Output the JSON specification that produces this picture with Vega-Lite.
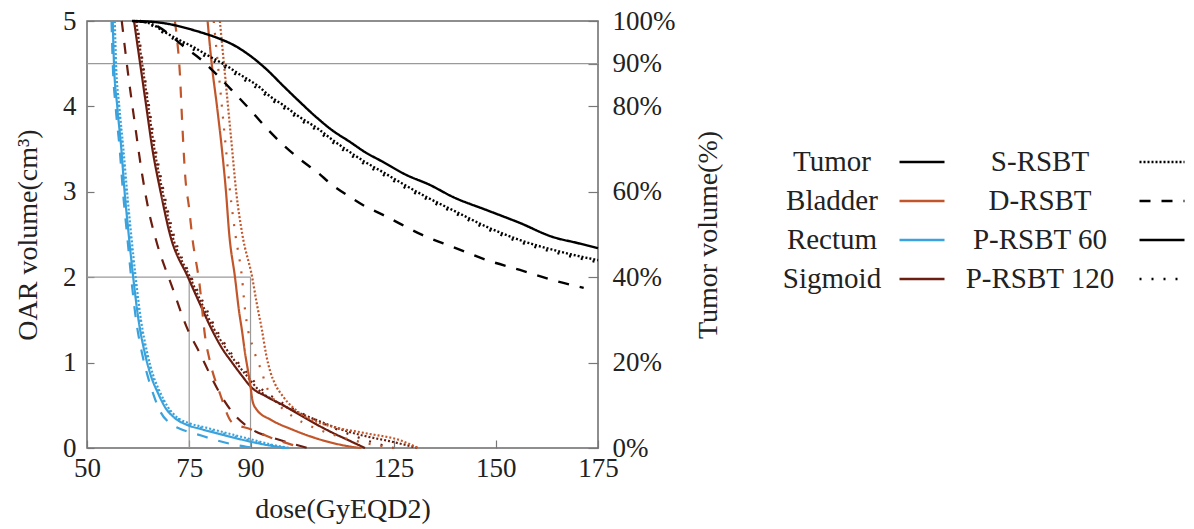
{
"$schema": "https://vega.github.io/schema/vega-lite/v6.json",
"width": 511, "height": 427,
"autosize": {"type": "none"},
"padding": {"left": 87, "top": 21, "right": 596, "bottom": 81},
"background": "white",
"config": {
  "font": "Liberation Serif",
  "view": {"stroke": "#6a6a6a", "strokeWidth": 1.5},
  "axis": {"labelFont": "Liberation Serif", "titleFont": "Liberation Serif", "labelFontSize": 27, "titleFontSize": 28, "titleFontWeight": "normal", "labelColor": "#222", "titleColor": "#222", "domain": false, "grid": false, "tickColor": "#777", "tickWidth": 1.2, "labelFlush": false, "labelOverlap": false},
  "legend": {"labelFont": "Liberation Serif", "labelFontSize": 29, "labelColor": "#222", "labelLimit": 400, "padding": 0}
},
"datasets": {
  "refs": [
    {"dose": 50, "dose_end": 175, "volume": 4.5, "volume_end": 4.5},
    {"dose": 50, "dose_end": 90, "volume": 2, "volume_end": 2},
    {"dose": 75, "dose_end": 75, "volume": 0, "volume_end": 2},
    {"dose": 90, "dose_end": 90, "volume": 0, "volume_end": 2}
  ],
  "oar": [
    {"organ":"Rectum","technique":"P-RSBT 60","dose":56.3,"volume":5},{"organ":"Rectum","technique":"P-RSBT 60","dose":56.6,"volume":4.5},{"organ":"Rectum","technique":"P-RSBT 60","dose":57.4,"volume":4},{"organ":"Rectum","technique":"P-RSBT 60","dose":58.4,"volume":3.5},{"organ":"Rectum","technique":"P-RSBT 60","dose":59.2,"volume":3},{"organ":"Rectum","technique":"P-RSBT 60","dose":60.2,"volume":2.5},{"organ":"Rectum","technique":"P-RSBT 60","dose":61.3,"volume":2},{"organ":"Rectum","technique":"P-RSBT 60","dose":62.6,"volume":1.5},{"organ":"Rectum","technique":"P-RSBT 60","dose":64.2,"volume":1.1},{"organ":"Rectum","technique":"P-RSBT 60","dose":65.6,"volume":0.85},{"organ":"Rectum","technique":"P-RSBT 60","dose":67.3,"volume":0.65},{"organ":"Rectum","technique":"P-RSBT 60","dose":69.2,"volume":0.47},{"organ":"Rectum","technique":"P-RSBT 60","dose":71.5,"volume":0.35},{"organ":"Rectum","technique":"P-RSBT 60","dose":74.5,"volume":0.27},{"organ":"Rectum","technique":"P-RSBT 60","dose":78,"volume":0.22},{"organ":"Rectum","technique":"P-RSBT 60","dose":82,"volume":0.17},{"organ":"Rectum","technique":"P-RSBT 60","dose":86,"volume":0.12},{"organ":"Rectum","technique":"P-RSBT 60","dose":90.4,"volume":0.07},{"organ":"Rectum","technique":"P-RSBT 60","dose":94,"volume":0.035},{"organ":"Rectum","technique":"P-RSBT 60","dose":99,"volume":0},
    {"organ":"Rectum","technique":"S-RSBT","dose":56.8,"volume":5},{"organ":"Rectum","technique":"S-RSBT","dose":57.1,"volume":4.5},{"organ":"Rectum","technique":"S-RSBT","dose":57.9,"volume":4},{"organ":"Rectum","technique":"S-RSBT","dose":58.9,"volume":3.5},{"organ":"Rectum","technique":"S-RSBT","dose":59.8,"volume":3},{"organ":"Rectum","technique":"S-RSBT","dose":60.8,"volume":2.5},{"organ":"Rectum","technique":"S-RSBT","dose":61.9,"volume":2},{"organ":"Rectum","technique":"S-RSBT","dose":63.2,"volume":1.5},{"organ":"Rectum","technique":"S-RSBT","dose":64.8,"volume":1.1},{"organ":"Rectum","technique":"S-RSBT","dose":66.2,"volume":0.85},{"organ":"Rectum","technique":"S-RSBT","dose":67.9,"volume":0.65},{"organ":"Rectum","technique":"S-RSBT","dose":69.8,"volume":0.48},{"organ":"Rectum","technique":"S-RSBT","dose":72,"volume":0.36},{"organ":"Rectum","technique":"S-RSBT","dose":75,"volume":0.29},{"organ":"Rectum","technique":"S-RSBT","dose":79,"volume":0.24},{"organ":"Rectum","technique":"S-RSBT","dose":83,"volume":0.19},{"organ":"Rectum","technique":"S-RSBT","dose":87,"volume":0.14},{"organ":"Rectum","technique":"S-RSBT","dose":91,"volume":0.09},{"organ":"Rectum","technique":"S-RSBT","dose":95,"volume":0.04},{"organ":"Rectum","technique":"S-RSBT","dose":99.5,"volume":0},
    {"organ":"Rectum","technique":"D-RSBT","dose":56,"volume":5},{"organ":"Rectum","technique":"D-RSBT","dose":56.3,"volume":4.5},{"organ":"Rectum","technique":"D-RSBT","dose":57,"volume":4},{"organ":"Rectum","technique":"D-RSBT","dose":58,"volume":3.5},{"organ":"Rectum","technique":"D-RSBT","dose":58.8,"volume":3},{"organ":"Rectum","technique":"D-RSBT","dose":59.8,"volume":2.5},{"organ":"Rectum","technique":"D-RSBT","dose":60.8,"volume":2},{"organ":"Rectum","technique":"D-RSBT","dose":62,"volume":1.5},{"organ":"Rectum","technique":"D-RSBT","dose":63.5,"volume":1.1},{"organ":"Rectum","technique":"D-RSBT","dose":64.8,"volume":0.85},{"organ":"Rectum","technique":"D-RSBT","dose":66.3,"volume":0.62},{"organ":"Rectum","technique":"D-RSBT","dose":68,"volume":0.42},{"organ":"Rectum","technique":"D-RSBT","dose":70,"volume":0.3},{"organ":"Rectum","technique":"D-RSBT","dose":73,"volume":0.22},{"organ":"Rectum","technique":"D-RSBT","dose":77,"volume":0.16},{"organ":"Rectum","technique":"D-RSBT","dose":81,"volume":0.1},{"organ":"Rectum","technique":"D-RSBT","dose":85,"volume":0.05},{"organ":"Rectum","technique":"D-RSBT","dose":89,"volume":0.015},{"organ":"Rectum","technique":"D-RSBT","dose":92,"volume":0},
    {"organ":"Rectum","technique":"P-RSBT 120","dose":56.5,"volume":5},{"organ":"Rectum","technique":"P-RSBT 120","dose":56.9,"volume":4.5},{"organ":"Rectum","technique":"P-RSBT 120","dose":57.7,"volume":4},{"organ":"Rectum","technique":"P-RSBT 120","dose":58.7,"volume":3.5},{"organ":"Rectum","technique":"P-RSBT 120","dose":59.5,"volume":3},{"organ":"Rectum","technique":"P-RSBT 120","dose":60.5,"volume":2.5},{"organ":"Rectum","technique":"P-RSBT 120","dose":61.6,"volume":2},{"organ":"Rectum","technique":"P-RSBT 120","dose":62.9,"volume":1.5},{"organ":"Rectum","technique":"P-RSBT 120","dose":64.5,"volume":1.1},{"organ":"Rectum","technique":"P-RSBT 120","dose":65.9,"volume":0.85},{"organ":"Rectum","technique":"P-RSBT 120","dose":67.6,"volume":0.65},{"organ":"Rectum","technique":"P-RSBT 120","dose":69.5,"volume":0.48},{"organ":"Rectum","technique":"P-RSBT 120","dose":71.8,"volume":0.36},{"organ":"Rectum","technique":"P-RSBT 120","dose":74.8,"volume":0.28},{"organ":"Rectum","technique":"P-RSBT 120","dose":78.5,"volume":0.23},{"organ":"Rectum","technique":"P-RSBT 120","dose":82.5,"volume":0.18},{"organ":"Rectum","technique":"P-RSBT 120","dose":86.5,"volume":0.13},{"organ":"Rectum","technique":"P-RSBT 120","dose":90.5,"volume":0.08},{"organ":"Rectum","technique":"P-RSBT 120","dose":94.5,"volume":0.04},{"organ":"Rectum","technique":"P-RSBT 120","dose":98,"volume":0},
    {"organ":"Sigmoid","technique":"P-RSBT 60","dose":61.5,"volume":5},{"organ":"Sigmoid","technique":"P-RSBT 60","dose":63,"volume":4.5},{"organ":"Sigmoid","technique":"P-RSBT 60","dose":64.5,"volume":4},{"organ":"Sigmoid","technique":"P-RSBT 60","dose":66,"volume":3.5},{"organ":"Sigmoid","technique":"P-RSBT 60","dose":68,"volume":3},{"organ":"Sigmoid","technique":"P-RSBT 60","dose":70.3,"volume":2.5},{"organ":"Sigmoid","technique":"P-RSBT 60","dose":74.7,"volume":2},{"organ":"Sigmoid","technique":"P-RSBT 60","dose":77.5,"volume":1.7},{"organ":"Sigmoid","technique":"P-RSBT 60","dose":80.6,"volume":1.38},{"organ":"Sigmoid","technique":"P-RSBT 60","dose":83,"volume":1.17},{"organ":"Sigmoid","technique":"P-RSBT 60","dose":85.5,"volume":1},{"organ":"Sigmoid","technique":"P-RSBT 60","dose":88,"volume":0.84},{"organ":"Sigmoid","technique":"P-RSBT 60","dose":90,"volume":0.72},{"organ":"Sigmoid","technique":"P-RSBT 60","dose":94,"volume":0.6},{"organ":"Sigmoid","technique":"P-RSBT 60","dose":98,"volume":0.5},{"organ":"Sigmoid","technique":"P-RSBT 60","dose":102,"volume":0.39},{"organ":"Sigmoid","technique":"P-RSBT 60","dose":106,"volume":0.28},{"organ":"Sigmoid","technique":"P-RSBT 60","dose":110,"volume":0.18},{"organ":"Sigmoid","technique":"P-RSBT 60","dose":114,"volume":0.09},{"organ":"Sigmoid","technique":"P-RSBT 60","dose":118,"volume":0},
    {"organ":"Sigmoid","technique":"S-RSBT","dose":62,"volume":5},{"organ":"Sigmoid","technique":"S-RSBT","dose":63.5,"volume":4.5},{"organ":"Sigmoid","technique":"S-RSBT","dose":65,"volume":4},{"organ":"Sigmoid","technique":"S-RSBT","dose":66.5,"volume":3.5},{"organ":"Sigmoid","technique":"S-RSBT","dose":68.5,"volume":3},{"organ":"Sigmoid","technique":"S-RSBT","dose":70.8,"volume":2.5},{"organ":"Sigmoid","technique":"S-RSBT","dose":75.2,"volume":2},{"organ":"Sigmoid","technique":"S-RSBT","dose":78,"volume":1.7},{"organ":"Sigmoid","technique":"S-RSBT","dose":81,"volume":1.4},{"organ":"Sigmoid","technique":"S-RSBT","dose":83.5,"volume":1.2},{"organ":"Sigmoid","technique":"S-RSBT","dose":86,"volume":1.03},{"organ":"Sigmoid","technique":"S-RSBT","dose":89,"volume":0.85},{"organ":"Sigmoid","technique":"S-RSBT","dose":92,"volume":0.68},{"organ":"Sigmoid","technique":"S-RSBT","dose":96,"volume":0.55},{"organ":"Sigmoid","technique":"S-RSBT","dose":100,"volume":0.45},{"organ":"Sigmoid","technique":"S-RSBT","dose":106,"volume":0.33},{"organ":"Sigmoid","technique":"S-RSBT","dose":112,"volume":0.22},{"organ":"Sigmoid","technique":"S-RSBT","dose":118,"volume":0.14},{"organ":"Sigmoid","technique":"S-RSBT","dose":124,"volume":0.08},{"organ":"Sigmoid","technique":"S-RSBT","dose":131,"volume":0},
    {"organ":"Sigmoid","technique":"D-RSBT","dose":58.5,"volume":5},{"organ":"Sigmoid","technique":"D-RSBT","dose":60,"volume":4.4},{"organ":"Sigmoid","technique":"D-RSBT","dose":61.7,"volume":3.8},{"organ":"Sigmoid","technique":"D-RSBT","dose":63.5,"volume":3.2},{"organ":"Sigmoid","technique":"D-RSBT","dose":65,"volume":2.8},{"organ":"Sigmoid","technique":"D-RSBT","dose":66.8,"volume":2.45},{"organ":"Sigmoid","technique":"D-RSBT","dose":70.8,"volume":1.89},{"organ":"Sigmoid","technique":"D-RSBT","dose":74.7,"volume":1.38},{"organ":"Sigmoid","technique":"D-RSBT","dose":77.6,"volume":1.11},{"organ":"Sigmoid","technique":"D-RSBT","dose":80,"volume":0.87},{"organ":"Sigmoid","technique":"D-RSBT","dose":82.5,"volume":0.64},{"organ":"Sigmoid","technique":"D-RSBT","dose":85.7,"volume":0.41},{"organ":"Sigmoid","technique":"D-RSBT","dose":90.6,"volume":0.21},{"organ":"Sigmoid","technique":"D-RSBT","dose":95.5,"volume":0.12},{"organ":"Sigmoid","technique":"D-RSBT","dose":101,"volume":0.04},{"organ":"Sigmoid","technique":"D-RSBT","dose":104,"volume":0},
    {"organ":"Sigmoid","technique":"P-RSBT 120","dose":62.2,"volume":5},{"organ":"Sigmoid","technique":"P-RSBT 120","dose":63.7,"volume":4.5},{"organ":"Sigmoid","technique":"P-RSBT 120","dose":65.2,"volume":4},{"organ":"Sigmoid","technique":"P-RSBT 120","dose":66.8,"volume":3.5},{"organ":"Sigmoid","technique":"P-RSBT 120","dose":68.8,"volume":3},{"organ":"Sigmoid","technique":"P-RSBT 120","dose":71.2,"volume":2.5},{"organ":"Sigmoid","technique":"P-RSBT 120","dose":75.5,"volume":2},{"organ":"Sigmoid","technique":"P-RSBT 120","dose":78.5,"volume":1.7},{"organ":"Sigmoid","technique":"P-RSBT 120","dose":81.5,"volume":1.4},{"organ":"Sigmoid","technique":"P-RSBT 120","dose":84,"volume":1.2},{"organ":"Sigmoid","technique":"P-RSBT 120","dose":86.5,"volume":1.03},{"organ":"Sigmoid","technique":"P-RSBT 120","dose":89.5,"volume":0.86},{"organ":"Sigmoid","technique":"P-RSBT 120","dose":92,"volume":0.72},{"organ":"Sigmoid","technique":"P-RSBT 120","dose":96,"volume":0.58},{"organ":"Sigmoid","technique":"P-RSBT 120","dose":100,"volume":0.47},{"organ":"Sigmoid","technique":"P-RSBT 120","dose":105,"volume":0.35},{"organ":"Sigmoid","technique":"P-RSBT 120","dose":110,"volume":0.24},{"organ":"Sigmoid","technique":"P-RSBT 120","dose":116,"volume":0.13},{"organ":"Sigmoid","technique":"P-RSBT 120","dose":121,"volume":0.05},{"organ":"Sigmoid","technique":"P-RSBT 120","dose":125,"volume":0},
    {"organ":"Bladder","technique":"P-RSBT 60","dose":79.5,"volume":5},{"organ":"Bladder","technique":"P-RSBT 60","dose":80.5,"volume":4.5},{"organ":"Bladder","technique":"P-RSBT 60","dose":81.8,"volume":4},{"organ":"Bladder","technique":"P-RSBT 60","dose":83,"volume":3.5},{"organ":"Bladder","technique":"P-RSBT 60","dose":84,"volume":3},{"organ":"Bladder","technique":"P-RSBT 60","dose":84.8,"volume":2.5},{"organ":"Bladder","technique":"P-RSBT 60","dose":86.2,"volume":2},{"organ":"Bladder","technique":"P-RSBT 60","dose":87.2,"volume":1.6},{"organ":"Bladder","technique":"P-RSBT 60","dose":87.9,"volume":1.38},{"organ":"Bladder","technique":"P-RSBT 60","dose":88.7,"volume":1.1},{"organ":"Bladder","technique":"P-RSBT 60","dose":89.4,"volume":0.9},{"organ":"Bladder","technique":"P-RSBT 60","dose":90,"volume":0.72},{"organ":"Bladder","technique":"P-RSBT 60","dose":90.5,"volume":0.55},{"organ":"Bladder","technique":"P-RSBT 60","dose":91.5,"volume":0.45},{"organ":"Bladder","technique":"P-RSBT 60","dose":95,"volume":0.33},{"organ":"Bladder","technique":"P-RSBT 60","dose":100,"volume":0.22},{"organ":"Bladder","technique":"P-RSBT 60","dose":105,"volume":0.13},{"organ":"Bladder","technique":"P-RSBT 60","dose":110,"volume":0.06},{"organ":"Bladder","technique":"P-RSBT 60","dose":114,"volume":0.02},{"organ":"Bladder","technique":"P-RSBT 60","dose":117,"volume":0},
    {"organ":"Bladder","technique":"S-RSBT","dose":82.5,"volume":5},{"organ":"Bladder","technique":"S-RSBT","dose":83.5,"volume":4.5},{"organ":"Bladder","technique":"S-RSBT","dose":84.5,"volume":4},{"organ":"Bladder","technique":"S-RSBT","dose":85.5,"volume":3.5},{"organ":"Bladder","technique":"S-RSBT","dose":86.5,"volume":3},{"organ":"Bladder","technique":"S-RSBT","dose":88,"volume":2.5},{"organ":"Bladder","technique":"S-RSBT","dose":90.4,"volume":2},{"organ":"Bladder","technique":"S-RSBT","dose":91.5,"volume":1.7},{"organ":"Bladder","technique":"S-RSBT","dose":92.8,"volume":1.38},{"organ":"Bladder","technique":"S-RSBT","dose":93.8,"volume":1.1},{"organ":"Bladder","technique":"S-RSBT","dose":94.8,"volume":0.9},{"organ":"Bladder","technique":"S-RSBT","dose":96,"volume":0.75},{"organ":"Bladder","technique":"S-RSBT","dose":98,"volume":0.6},{"organ":"Bladder","technique":"S-RSBT","dose":102,"volume":0.41},{"organ":"Bladder","technique":"S-RSBT","dose":106,"volume":0.31},{"organ":"Bladder","technique":"S-RSBT","dose":110,"volume":0.25},{"organ":"Bladder","technique":"S-RSBT","dose":118.5,"volume":0.17},{"organ":"Bladder","technique":"S-RSBT","dose":126.6,"volume":0.09},{"organ":"Bladder","technique":"S-RSBT","dose":131,"volume":0},
    {"organ":"Bladder","technique":"D-RSBT","dose":71.5,"volume":5},{"organ":"Bladder","technique":"D-RSBT","dose":72,"volume":4.8},{"organ":"Bladder","technique":"D-RSBT","dose":72.7,"volume":4.4},{"organ":"Bladder","technique":"D-RSBT","dose":73.3,"volume":3.8},{"organ":"Bladder","technique":"D-RSBT","dose":74,"volume":3.2},{"organ":"Bladder","technique":"D-RSBT","dose":75,"volume":2.8},{"organ":"Bladder","technique":"D-RSBT","dose":75.7,"volume":2.49},{"organ":"Bladder","technique":"D-RSBT","dose":77.6,"volume":1.89},{"organ":"Bladder","technique":"D-RSBT","dose":78.9,"volume":1.3},{"organ":"Bladder","technique":"D-RSBT","dose":80,"volume":1.03},{"organ":"Bladder","technique":"D-RSBT","dose":82.5,"volume":0.64},{"organ":"Bladder","technique":"D-RSBT","dose":85.5,"volume":0.3},{"organ":"Bladder","technique":"D-RSBT","dose":90,"volume":0.22},{"organ":"Bladder","technique":"D-RSBT","dose":95,"volume":0.12},{"organ":"Bladder","technique":"D-RSBT","dose":100,"volume":0.04},{"organ":"Bladder","technique":"D-RSBT","dose":103,"volume":0},
    {"organ":"Bladder","technique":"P-RSBT 120","dose":81,"volume":5},{"organ":"Bladder","technique":"P-RSBT 120","dose":82,"volume":4.5},{"organ":"Bladder","technique":"P-RSBT 120","dose":83,"volume":4},{"organ":"Bladder","technique":"P-RSBT 120","dose":84,"volume":3.5},{"organ":"Bladder","technique":"P-RSBT 120","dose":85,"volume":3},{"organ":"Bladder","technique":"P-RSBT 120","dose":86.3,"volume":2.5},{"organ":"Bladder","technique":"P-RSBT 120","dose":87.9,"volume":2},{"organ":"Bladder","technique":"P-RSBT 120","dose":88.7,"volume":1.6},{"organ":"Bladder","technique":"P-RSBT 120","dose":89.4,"volume":1.38},{"organ":"Bladder","technique":"P-RSBT 120","dose":90.6,"volume":1.18},{"organ":"Bladder","technique":"P-RSBT 120","dose":91.6,"volume":1.03},{"organ":"Bladder","technique":"P-RSBT 120","dose":92.8,"volume":0.89},{"organ":"Bladder","technique":"P-RSBT 120","dose":93.5,"volume":0.77},{"organ":"Bladder","technique":"P-RSBT 120","dose":95,"volume":0.62},{"organ":"Bladder","technique":"P-RSBT 120","dose":97,"volume":0.5},{"organ":"Bladder","technique":"P-RSBT 120","dose":100,"volume":0.38},{"organ":"Bladder","technique":"P-RSBT 120","dose":105,"volume":0.25},{"organ":"Bladder","technique":"P-RSBT 120","dose":112,"volume":0.13},{"organ":"Bladder","technique":"P-RSBT 120","dose":120,"volume":0.04},{"organ":"Bladder","technique":"P-RSBT 120","dose":125,"volume":0}
  ],
  "tumor": [
    {"organ":"Tumor","technique":"P-RSBT 60","dose":61,"percent":100},{"organ":"Tumor","technique":"P-RSBT 60","dose":66,"percent":99.8},{"organ":"Tumor","technique":"P-RSBT 60","dose":70,"percent":99.3},{"organ":"Tumor","technique":"P-RSBT 60","dose":74,"percent":98.4},{"organ":"Tumor","technique":"P-RSBT 60","dose":78,"percent":97.3},{"organ":"Tumor","technique":"P-RSBT 60","dose":82,"percent":96},{"organ":"Tumor","technique":"P-RSBT 60","dose":86,"percent":94.3},{"organ":"Tumor","technique":"P-RSBT 60","dose":90,"percent":91.8},{"organ":"Tumor","technique":"P-RSBT 60","dose":94,"percent":88.6},{"organ":"Tumor","technique":"P-RSBT 60","dose":98,"percent":84.8},{"organ":"Tumor","technique":"P-RSBT 60","dose":102,"percent":81.1},{"organ":"Tumor","technique":"P-RSBT 60","dose":106.3,"percent":77.3},{"organ":"Tumor","technique":"P-RSBT 60","dose":110,"percent":74.4},{"organ":"Tumor","technique":"P-RSBT 60","dose":114.3,"percent":71.7},{"organ":"Tumor","technique":"P-RSBT 60","dose":118,"percent":69.3},{"organ":"Tumor","technique":"P-RSBT 60","dose":122.4,"percent":67},{"organ":"Tumor","technique":"P-RSBT 60","dose":128,"percent":64},{"organ":"Tumor","technique":"P-RSBT 60","dose":133.9,"percent":61.6},{"organ":"Tumor","technique":"P-RSBT 60","dose":139.5,"percent":58.8},{"organ":"Tumor","technique":"P-RSBT 60","dose":147.8,"percent":55.7},{"organ":"Tumor","technique":"P-RSBT 60","dose":155.9,"percent":52.7},{"organ":"Tumor","technique":"P-RSBT 60","dose":164,"percent":49.4},{"organ":"Tumor","technique":"P-RSBT 60","dose":170,"percent":48},{"organ":"Tumor","technique":"P-RSBT 60","dose":175,"percent":46.8},
    {"organ":"Tumor","technique":"S-RSBT","dose":63,"percent":100},{"organ":"Tumor","technique":"S-RSBT","dose":66,"percent":99.2},{"organ":"Tumor","technique":"S-RSBT","dose":69,"percent":97.4},{"organ":"Tumor","technique":"S-RSBT","dose":72.5,"percent":95.6},{"organ":"Tumor","technique":"S-RSBT","dose":76.4,"percent":93.7},{"organ":"Tumor","technique":"S-RSBT","dose":80,"percent":91.7},{"organ":"Tumor","technique":"S-RSBT","dose":83.8,"percent":89.7},{"organ":"Tumor","technique":"S-RSBT","dose":87.5,"percent":87.4},{"organ":"Tumor","technique":"S-RSBT","dose":91.8,"percent":84.8},{"organ":"Tumor","technique":"S-RSBT","dose":95,"percent":82.2},{"organ":"Tumor","technique":"S-RSBT","dose":98,"percent":80.3},{"organ":"Tumor","technique":"S-RSBT","dose":102,"percent":77.5},{"organ":"Tumor","technique":"S-RSBT","dose":106.3,"percent":74.9},{"organ":"Tumor","technique":"S-RSBT","dose":110,"percent":72.2},{"organ":"Tumor","technique":"S-RSBT","dose":114.3,"percent":69.3},{"organ":"Tumor","technique":"S-RSBT","dose":118,"percent":67},{"organ":"Tumor","technique":"S-RSBT","dose":122.4,"percent":64.6},{"organ":"Tumor","technique":"S-RSBT","dose":127,"percent":62},{"organ":"Tumor","technique":"S-RSBT","dose":133,"percent":58.8},{"organ":"Tumor","technique":"S-RSBT","dose":139.5,"percent":55.7},{"organ":"Tumor","technique":"S-RSBT","dose":147.8,"percent":51.8},{"organ":"Tumor","technique":"S-RSBT","dose":155.9,"percent":48.7},{"organ":"Tumor","technique":"S-RSBT","dose":164,"percent":46.4},{"organ":"Tumor","technique":"S-RSBT","dose":170,"percent":45},{"organ":"Tumor","technique":"S-RSBT","dose":175,"percent":44},
    {"organ":"Tumor","technique":"P-RSBT 120","dose":63,"percent":100},{"organ":"Tumor","technique":"P-RSBT 120","dose":66,"percent":98.9},{"organ":"Tumor","technique":"P-RSBT 120","dose":69,"percent":97},{"organ":"Tumor","technique":"P-RSBT 120","dose":72.5,"percent":95.1},{"organ":"Tumor","technique":"P-RSBT 120","dose":76.4,"percent":93.1},{"organ":"Tumor","technique":"P-RSBT 120","dose":80,"percent":91.1},{"organ":"Tumor","technique":"P-RSBT 120","dose":83.8,"percent":89.1},{"organ":"Tumor","technique":"P-RSBT 120","dose":87.5,"percent":86.8},{"organ":"Tumor","technique":"P-RSBT 120","dose":91.8,"percent":84.1},{"organ":"Tumor","technique":"P-RSBT 120","dose":95,"percent":81.6},{"organ":"Tumor","technique":"P-RSBT 120","dose":98,"percent":79.7},{"organ":"Tumor","technique":"P-RSBT 120","dose":102,"percent":76.9},{"organ":"Tumor","technique":"P-RSBT 120","dose":106.3,"percent":74.3},{"organ":"Tumor","technique":"P-RSBT 120","dose":110,"percent":71.6},{"organ":"Tumor","technique":"P-RSBT 120","dose":114.3,"percent":68.7},{"organ":"Tumor","technique":"P-RSBT 120","dose":118,"percent":66.4},{"organ":"Tumor","technique":"P-RSBT 120","dose":122.4,"percent":64},{"organ":"Tumor","technique":"P-RSBT 120","dose":127,"percent":61.4},{"organ":"Tumor","technique":"P-RSBT 120","dose":133,"percent":58.3},{"organ":"Tumor","technique":"P-RSBT 120","dose":139.5,"percent":55.2},{"organ":"Tumor","technique":"P-RSBT 120","dose":147.8,"percent":51.3},{"organ":"Tumor","technique":"P-RSBT 120","dose":155.9,"percent":48.2},{"organ":"Tumor","technique":"P-RSBT 120","dose":164,"percent":45.9},{"organ":"Tumor","technique":"P-RSBT 120","dose":170,"percent":44.5},{"organ":"Tumor","technique":"P-RSBT 120","dose":175,"percent":43.5},
    {"organ":"Tumor","technique":"D-RSBT","dose":62,"percent":100},{"organ":"Tumor","technique":"D-RSBT","dose":66,"percent":99.3},{"organ":"Tumor","technique":"D-RSBT","dose":70,"percent":97},{"organ":"Tumor","technique":"D-RSBT","dose":73.2,"percent":94.4},{"organ":"Tumor","technique":"D-RSBT","dose":78.1,"percent":90.8},{"organ":"Tumor","technique":"D-RSBT","dose":82,"percent":87.2},{"organ":"Tumor","technique":"D-RSBT","dose":86.2,"percent":83},{"organ":"Tumor","technique":"D-RSBT","dose":90.4,"percent":78.7},{"organ":"Tumor","technique":"D-RSBT","dose":94,"percent":74.8},{"organ":"Tumor","technique":"D-RSBT","dose":98,"percent":71},{"organ":"Tumor","technique":"D-RSBT","dose":102,"percent":67.7},{"organ":"Tumor","technique":"D-RSBT","dose":106.3,"percent":64.6},{"organ":"Tumor","technique":"D-RSBT","dose":110,"percent":61.6},{"organ":"Tumor","technique":"D-RSBT","dose":114.3,"percent":58.8},{"organ":"Tumor","technique":"D-RSBT","dose":118,"percent":56.6},{"organ":"Tumor","technique":"D-RSBT","dose":122.4,"percent":54.6},{"organ":"Tumor","technique":"D-RSBT","dose":127,"percent":52.3},{"organ":"Tumor","technique":"D-RSBT","dose":132,"percent":49.9},{"organ":"Tumor","technique":"D-RSBT","dose":139.5,"percent":47.1},{"organ":"Tumor","technique":"D-RSBT","dose":147.8,"percent":44},{"organ":"Tumor","technique":"D-RSBT","dose":155.9,"percent":41.7},{"organ":"Tumor","technique":"D-RSBT","dose":164,"percent":39.3},{"organ":"Tumor","technique":"D-RSBT","dose":171.5,"percent":37.5}
  ]
},
"layer": [
  {
    "layer": [
      {
        "data": {"name": "refs"},
        "mark": {"type": "rule", "color": "#9a9a9a", "strokeWidth": 1.2},
        "encoding": {
          "x": {"field": "dose", "type": "quantitative", "title": "dose(GyEQD2)", "scale": {"domain": [50, 175], "nice": false, "zero": false}},
          "x2": {"field": "dose_end"},
          "y": {"field": "volume", "type": "quantitative", "title": "OAR volume(cm³)", "scale": {"domain": [0, 5], "nice": false}},
          "y2": {"field": "volume_end"}
        }
      },
      {
        "data": {"name": "oar"},
        "mark": {"type": "line", "strokeWidth": 2.2, "interpolate": "monotone"},
        "encoding": {
          "x": {"field": "dose", "type": "quantitative", "title": "dose(GyEQD2)", "scale": {"domain": [50, 175], "nice": false, "zero": false},
                "axis": {"values": [50, 75, 90, 125, 150, 175], "tickSize": -8, "labelPadding": 15, "titlePadding": 14}},
          "y": {"field": "volume", "type": "quantitative", "title": "OAR volume(cm³)", "scale": {"domain": [0, 5], "nice": false},
                "axis": {"values": [0, 1, 2, 3, 4, 5], "format": "d", "tickSize": -7, "labelPadding": 18, "titlePadding": 20}},
          "color": {"field": "organ", "type": "nominal",
                    "scale": {"domain": ["Tumor", "Bladder", "Rectum", "Sigmoid"], "range": ["#000000", "#c2562a", "#3aa2dc", "#6b1d10"]},
                    "legend": {"orient": "none", "legendX": 811, "legendY": 117, "title": null, "symbolType": "stroke", "symbolSize": 2025, "symbolStrokeWidth": 2.5, "labelFont": "Liberation Serif", "labelAlign": "center", "labelOffset": -114, "rowPadding": -0.5}},
          "strokeDash": {"field": "technique", "type": "nominal",
                    "scale": {"domain": ["S-RSBT", "D-RSBT", "P-RSBT 60", "P-RSBT 120"], "range": [[2, 2], [11, 11], [1, 0], [2, 10]]},
                    "legend": {"orient": "none", "legendX": 1051, "legendY": 117, "title": null, "symbolType": "stroke", "symbolSize": 2025, "symbolStrokeWidth": 2.5, "symbolStrokeColor": "#000000", "labelFont": "Liberation Serif", "labelAlign": "center", "labelOffset": -146, "rowPadding": -0.5}}
        }
      }
    ]
  },
  {
    "data": {"name": "tumor"},
    "mark": {"type": "line", "strokeWidth": 2.4, "interpolate": "monotone"},
    "encoding": {
      "x": {"field": "dose", "type": "quantitative", "title": "dose(GyEQD2)", "scale": {"domain": [50, 175], "nice": false, "zero": false}},
      "y": {"field": "percent", "type": "quantitative", "title": "Tumor volume(%)", "scale": {"domain": [0, 100], "nice": false},
            "axis": {"orient": "right", "values": [0, 20, 40, 60, 80, 90, 100], "labelExpr": "datum.value + '%'", "tickSize": -10, "labelPadding": 24, "titleAngle": 270, "titlePadding": 48}},
      "color": {"field": "organ", "type": "nominal", "scale": {"domain": ["Tumor", "Bladder", "Rectum", "Sigmoid"], "range": ["#000000", "#c2562a", "#3aa2dc", "#6b1d10"]}},
      "strokeDash": {"field": "technique", "type": "nominal", "scale": {"domain": ["S-RSBT", "D-RSBT", "P-RSBT 60", "P-RSBT 120"], "range": [[2, 2], [11, 11], [1, 0], [2, 10]]}}
    }
  }
],
"resolve": {"scale": {"y": "independent"}, "axis": {"y": "independent"}}
}
